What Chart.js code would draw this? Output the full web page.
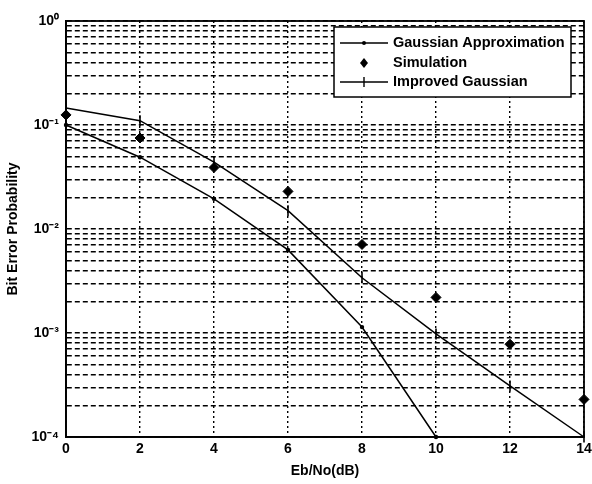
<!DOCTYPE html>
<html><head><meta charset="utf-8">
<script src="https://cdn.jsdelivr.net/npm/chart.js@4/dist/chart.umd.min.js"></script>
<style>html,body{margin:0;padding:0;background:#fff}#wrap{width:592px;height:484px;position:relative}</style>
</head><body><div id="wrap"><canvas id="c"></canvas></div>
<script>
// ---- data ----
const ebno = [0, 2, 4, 6, 8, 10, 12, 14];
const gaussApprox = [0.1, 0.049, 0.0195, 0.0063, 0.00114, 0.0001];
const simulation = [0.125, 0.075, 0.039, 0.023, 0.0071, 0.0022, 0.00078, 0.00023];
const improvedGaussian = [0.146, 0.11, 0.044, 0.015, 0.0034, 0.00098, 0.00031, 0.0001];
const seriesNames = ['Gaussian Approximation', 'Simulation', 'Improved Gaussian'];
const xTicks = [0, 2, 4, 6, 8, 10, 12, 14];
const yMajor = [1e-4, 1e-3, 1e-2, 1e-1, 1];
const yMajorLabels = ['10\u207B\u2074', '10\u207B\u00B3', '10\u207B\u00B2', '10\u207B\u00B9', '10\u2070'];
const xTitle = 'Eb/No(dB)';
const yTitle = 'Bit Error Probability';

const toPts = arr => arr.map((v, i) => ({x: ebno[i], y: v}));
const yGridVals = [];
for (let e = -4; e < 0; e++) for (let s = 1; s <= 9; s++) yGridVals.push(+(s * Math.pow(10, e)).toPrecision(3));
yGridVals.push(1);

const FONT = '"Liberation Sans", Arial, sans-serif';

const framePlugin = {
  id: 'frame',
  afterDraw(chart) {
    const {ctx, chartArea: a} = chart;
    ctx.save();
    ctx.strokeStyle = '#000'; ctx.lineWidth = 1.8; ctx.setLineDash([]);
    ctx.strokeRect(a.left, a.top, a.right - a.left, a.bottom - a.top);
    // legend box
    const bx = 334, by = 27, bw = 237, bh = 70;
    ctx.fillStyle = '#fff';
    ctx.fillRect(bx, by, bw, bh);
    ctx.lineWidth = 1.5;
    ctx.strokeRect(bx, by, bw, bh);
    const rows = [43, 63, 82];
    const lx0 = 340, lx1 = 388, mx = 364;
    ctx.font = 'bold 14.5px ' + FONT;
    ctx.textBaseline = 'middle'; ctx.textAlign = 'left';
    ctx.fillStyle = '#000';
    ctx.lineWidth = 1.4;
    ctx.beginPath(); ctx.moveTo(lx0, rows[0]); ctx.lineTo(lx1, rows[0]); ctx.stroke();
    ctx.beginPath(); ctx.arc(mx, rows[0], 2, 0, Math.PI * 2); ctx.fill();
    ctx.beginPath(); ctx.moveTo(mx, rows[1] - 5); ctx.lineTo(mx + 4, rows[1]); ctx.lineTo(mx, rows[1] + 5); ctx.lineTo(mx - 4, rows[1]); ctx.closePath(); ctx.fill();
    ctx.beginPath(); ctx.moveTo(lx0, rows[2]); ctx.lineTo(lx1, rows[2]); ctx.stroke();
    ctx.beginPath(); ctx.moveTo(mx, rows[2] - 5); ctx.lineTo(mx, rows[2] + 5); ctx.stroke();
    seriesNames.forEach((n, i) => ctx.fillText(n, 393, rows[i]));
    ctx.restore();
  }
};

new Chart(document.getElementById('c'), {
  type: 'line',
  data: {
    datasets: [
      {label: seriesNames[0], data: toPts(gaussApprox), borderColor: '#000', backgroundColor: '#000', borderWidth: 1.5,
       pointStyle: 'circle', pointRadius: 2.2, pointBorderWidth: 0, tension: 0, clip: 8},
      {label: seriesNames[1], data: toPts(simulation), borderColor: '#000', backgroundColor: '#000', showLine: false,
       pointStyle: 'rectRot', pointRadius: 5, pointBorderWidth: 1, clip: 8},
      {label: seriesNames[2], data: toPts(improvedGaussian), borderColor: '#000', backgroundColor: '#000', borderWidth: 1.5,
       pointStyle: 'line', pointRotation: 90, pointRadius: 5.5, pointBorderWidth: 1.6, tension: 0, clip: 8}
    ]
  },
  options: {
    responsive: true, maintainAspectRatio: false, animation: false,
    layout: {padding: {left: 0, top: 21, right: 8, bottom: 0}},
    plugins: {legend: {display: false}, tooltip: {enabled: false}},
    scales: {
      x: {
        type: 'linear', min: 0, max: 14,
        afterBuildTicks: s => { s.ticks = xTicks.map(v => ({value: v})); },
        afterFit: s => { s.height = 47; s.paddingLeft = 0; s.paddingRight = 0; },
        ticks: {font: {family: FONT, size: 14, weight: 'bold'}, color: '#000', padding: 4},
        grid: {color: '#000', lineWidth: 1.4, drawTicks: false},
        border: {display: true, color: '#000', width: 1.8, dash: [2, 3]},
        title: {display: true, text: xTitle, font: {family: FONT, size: 14, weight: 'bold'}, color: '#000', padding: {top: 0}}
      },
      y: {
        type: 'logarithmic', min: 1e-4, max: 1,
        afterBuildTicks: s => { s.ticks = yGridVals.map(v => ({value: v})); },
        afterFit: s => { s.width = 66; s.paddingTop = 0; s.paddingBottom = 0; },
        ticks: {
          font: {family: FONT, size: 14, weight: 'bold'}, color: '#000', padding: 7, autoSkip: false,
          callback: v => { const i = yMajor.findIndex(m => Math.abs(Math.log10(m) - Math.log10(v)) < 1e-6); return i >= 0 ? yMajorLabels[i] : ''; }
        },
        grid: {color: '#000', lineWidth: 1.4, drawTicks: false},
        border: {display: true, color: '#000', width: 1.8, dash: [5, 3]},
        title: {display: true, text: yTitle, font: {family: FONT, size: 14, weight: 'bold'}, color: '#000', padding: {top: 5}}
      }
    }
  },
  plugins: [framePlugin]
});
</script>
</body></html>
